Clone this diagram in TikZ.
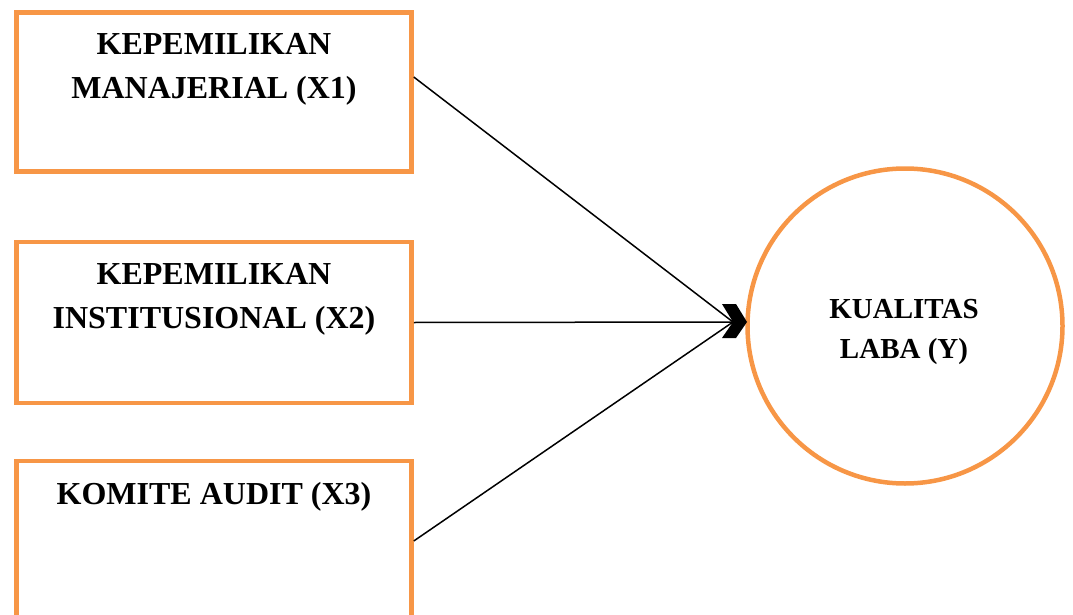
\documentclass[tikz,border=0pt]{standalone}
\usepackage{fontspec}
\setmainfont{Liberation Serif}
\usetikzlibrary{calc}
\definecolor{boxorange}{HTML}{F79646}
\begin{document}
\begin{tikzpicture}[x=1pt,y=-1pt,
  varbox/.style={draw=boxorange, line width=4.5pt, rectangle, inner sep=0pt,
    minimum width=395pt},
  varlabel/.style={inner sep=0pt, anchor=north, align=center,
    font=\bfseries\fontsize{32}{44}\selectfont},
  ylabel/.style={inner sep=0pt, anchor=north, align=center,
    font=\bfseries\fontsize{29}{40}\selectfont},
  yellipse/.style={draw=boxorange, line width=4.5pt, circle, inner sep=0pt,
    minimum size=315pt},
  conn/.style={line width=1.5pt, black}]
\useasboundingbox (0,0) rectangle (1073,615);
\clip (0,0) rectangle (1073,615);

% boxes
\node[varbox, minimum height=159pt] (x1) at (214,92) {};
\node[varbox, minimum height=161pt] (x2) at (214,322.5) {};
\node[varbox, minimum height=160pt] (x3) at (214,541) {};

\node[varlabel] (t1) at (214,33) {KEPEMILIKAN\\MANAJERIAL (X1)};
\node[varlabel] (t2) at (214,263) {KEPEMILIKAN\\INSTITUSIONAL (X2)};
\node[varlabel] (t3) at (214,482) {KOMITE AUDIT (X3)};

% circle
\node[yellipse] (y) at (905,326) {};
\node[ylabel] (ty) at (904,299) {KUALITAS\\LABA (Y)};

% convergence point
\coordinate (tip) at (733,322);

\draw[conn] ([yshift=15pt]x1.east) -- (tip);
\draw[conn] (x2.east) -- (tip);
\draw[conn] (x3.east) -- (tip);

% chevron arrowhead
\fill[black] ($(tip)+(-11,-18)$) -- ($(tip)+(3,-18)$) -- ($(tip)+(14,0)$)
  -- ($(tip)+(3,16)$) -- ($(tip)+(-11,16)$) -- (tip) -- cycle;
\end{tikzpicture}
\end{document}
